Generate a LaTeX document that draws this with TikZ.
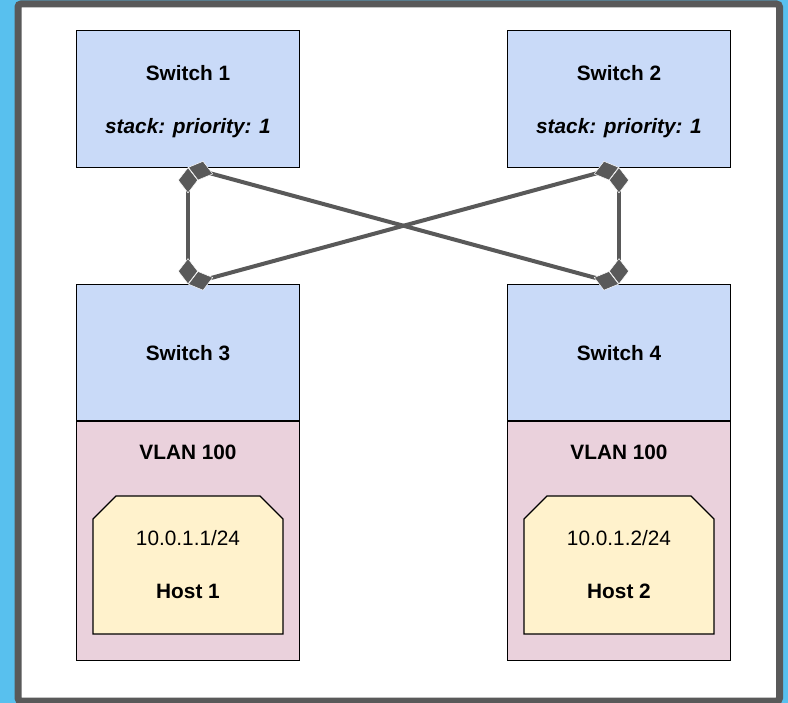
\documentclass[tikz,border=0pt]{standalone}
\usepackage{fontspec}
\setmainfont{Liberation Sans}
\usetikzlibrary{arrows.meta}
\definecolor{bgblue}{HTML}{58C0EE}
\definecolor{framegray}{HTML}{595959}
\definecolor{swblue}{HTML}{C9DAF8}
\definecolor{vlanpink}{HTML}{EAD1DC}
\definecolor{hostyellow}{HTML}{FFF2CC}
\definecolor{linegray}{HTML}{595959}
\tikzset{
  box/.style={draw=black, line width=1.4pt, inner sep=0pt, outer sep=0pt, minimum width=223pt},
  swbox/.style={box, fill=swblue, minimum height=136.5pt},
  vlanbox/.style={box, fill=vlanpink, minimum height=239.5pt},
  hostarea/.style={inner sep=0pt, outer sep=0pt, minimum width=190pt, minimum height=138pt},
  hostshape/.style={draw=black, line width=1.4pt, fill=hostyellow, line join=miter},
  lbl/.style={font=\fontsize{20.8}{25}\selectfont\bfseries, inner sep=0pt},
  ilbl/.style={font=\fontsize{20.8}{25}\selectfont\bfseries\itshape, inner sep=0pt},
  rlbl/.style={font=\fontsize{20.8}{25}\selectfont, inner sep=0pt},
  dtip/.style={Diamond[length=26pt,width=20pt,color=white,fill=linegray,line width=0.5pt]},
  conn/.style={draw=linegray, line width=4pt, {Diamond[length=26pt,width=20pt,color=white,fill=linegray,line width=0.5pt]}-{Diamond[length=26pt,width=20pt,color=white,fill=linegray,line width=0.5pt]}},
}
\begin{document}
\begin{tikzpicture}[x=1pt,y=-1pt]
\useasboundingbox (0,0) rectangle (788,703);
\fill[bgblue] (0,0) rectangle (788,703);
\draw[framegray, line width=7pt, fill=white, rounded corners=3pt] (18,4) rectangle (779.5,701);

% switches
\node[swbox] (s1) at (188,99) {};
\node[swbox] (s2) at (619,99) {};
\node[swbox] (s3) at (188,352.5) {};
\node[swbox] (s4) at (619,352.5) {};
\node[vlanbox] (v3) at (188,540.75) {};
\node[vlanbox] (v4) at (619,540.75) {};

% hosts (chamfered top corners)
\node[hostarea] (h1) at (188,565) {};
\node[hostarea] (h2) at (619,565) {};
\foreach \h in {h1,h2}{
  \draw[hostshape] (\h.south west) -- ([yshift=-23pt]\h.north west) -- ([xshift=23pt]\h.north west)
    -- ([xshift=-23pt]\h.north east) -- ([yshift=-23pt]\h.north east) -- (\h.south east) -- cycle;
}

% labels
\node[lbl] (s1t) at (188,73) {Switch 1};
\node[ilbl] (s1p) at (188,128) {stack: priority: 1};
\node[lbl] (s2t) at (619,73) {Switch 2};
\node[ilbl] (s2p) at (619,128) {stack: priority: 1};
\node[lbl] (s3t) at (188,353) {Switch 3};
\node[lbl] (s4t) at (619,353) {Switch 4};
\node[lbl] (v3t) at (188,452) {VLAN 100};
\node[lbl] (v4t) at (619,452) {VLAN 100};
\node[rlbl] (h1a) at (188,538) {10.0.1.1/24};
\node[lbl] (h1t) at (188,591) {Host 1};
\node[rlbl] (h2a) at (619,538) {10.0.1.2/24};
\node[lbl] (h2t) at (619,591) {Host 2};

% connectors
\draw[conn] (s1.south) -- (s3.north);
\draw[conn] (s2.south) -- (s4.north);
\draw[conn] (s1.south) -- (s4.north);
\draw[conn] (s2.south) -- (s3.north);
\end{tikzpicture}
\end{document}
